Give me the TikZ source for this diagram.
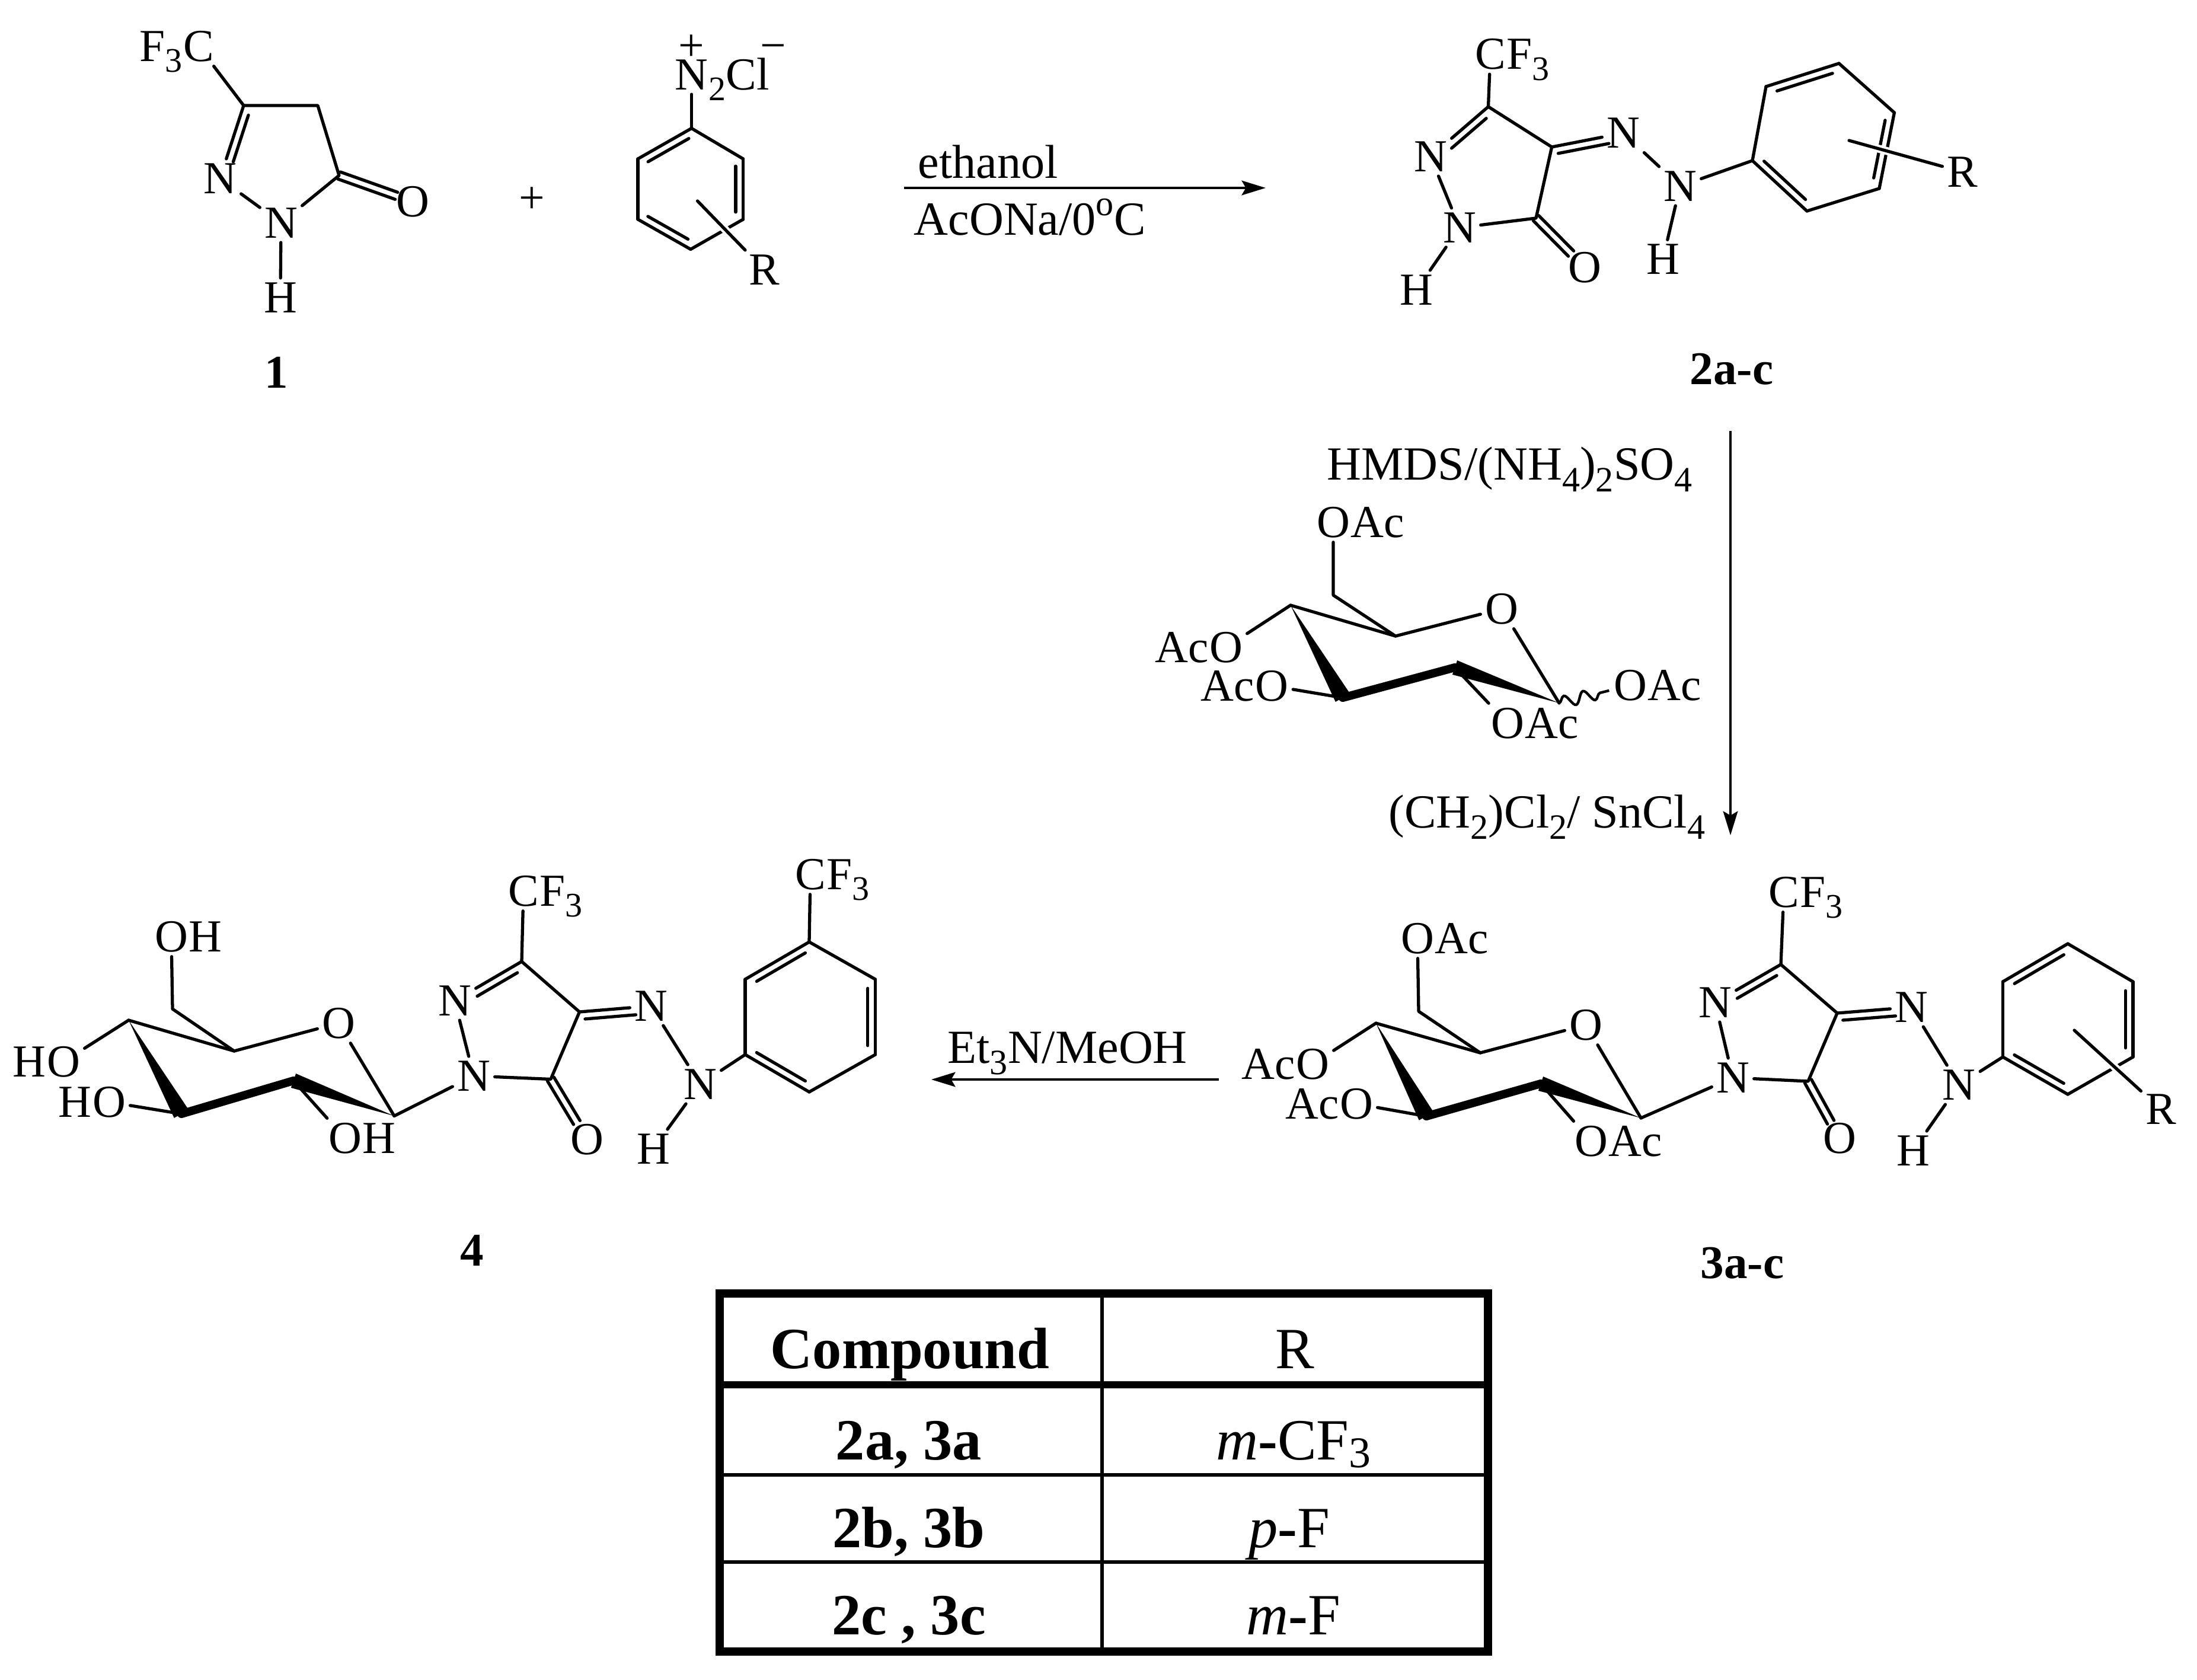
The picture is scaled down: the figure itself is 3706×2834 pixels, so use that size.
\documentclass[tikz,border=0pt]{standalone}
\usepackage{fontspec}
\usepackage{graphicx}
\setmainfont{Liberation Serif}
\usetikzlibrary{arrows.meta,calc,decorations.pathmorphing}

\newcommand{\chemf}{\fontsize{22}{26}\selectfont}
\newcommand{\reagf}{\fontsize{22.8}{27}\selectfont}
\newcommand{\labf}{\fontsize{22.5}{27}\selectfont\bfseries}
\newcommand{\tabf}{\fontsize{28}{32}\selectfont}
\newcommand{\sbs}[1]{\raisebox{-.24em}{\scalebox{.75}{#1}}}
\newcommand{\tsb}[1]{\raisebox{-.14em}{\scalebox{.75}{#1}}}
\newcommand{\sps}[1]{\raisebox{.42em}{\scalebox{.75}{#1}}}
\newcommand{\ofl}[5]{\draw[bond] ($(#1)!#4!(#2)!#3!90:(#2)$) -- ($(#1)!#5!(#2)!#3!90:(#2)$);}
\newcommand{\dbl}[5]{\draw[bond] (#1) -- (#2); \ofl{#1}{#2}{#3}{#4}{#5}}
\newcommand{\dbo}[4]{\ofl{#1}{#2}{#3}{0}{#4} \ofl{#1}{#2}{-#3}{0}{#4}}
\newcommand{\bzring}[6]{
	\dbl{#1}{#2}{-3.6pt}{.12}{.88}
	\draw[bond] (#2) -- (#3);
	\dbl{#3}{#4}{-3.6pt}{.12}{.88}
	\draw[bond] (#4) -- (#5);
	\dbl{#5}{#6}{-3.6pt}{.12}{.88}
	\draw[bond] (#6) -- (#1);
}
\newcommand{\wedgeb}[3]{\fill (#1) -- ($(#2)!#3!90:(#1)$) -- ($(#2)!#3!-90:(#1)$) -- cycle;}
\newcommand{\sugarbonds}[1]{
	\draw[bond] (#1_o6) -- (#1_c6) -- (#1_c5);
	\draw[bond] (#1_c4) -- (#1_c5) -- (#1_o5);
	\draw[bond] (#1_o5) -- (#1_c1);
	\draw[bond] (#1_c4) -- (#1_o4);
	\draw[bond] (#1_o3) -- (#1_c3);
	\draw[bond] (#1_c2) -- (#1_o2);
	\wedgeb{#1_c4}{#1_c3}{4pt}
	\draw[boldbond] (#1_c3) -- (#1_c2);
	\wedgeb{#1_c1}{#1_c2}{3.6pt}
}
\newcommand{\hydrazone}[1]{
	\dbl{#1_c3}{#1_n2}{3.6pt}{.12}{.72}
	\draw[bond] (#1_c3) -- (#1_cf);
	\draw[bond] (#1_c3) -- (#1_c4) -- (#1_c5) -- (#1_n1);
	\draw[bond] (#1_n1) -- (#1_n2);
	\dbl{#1_c4}{#1_na}{-3.6pt}{.07}{.78}
	\dbo{#1_c5}{#1_o}{1.8pt}{.72}
	\draw[bond] (#1_na) -- (#1_nb);
	\draw[bond] (#1_nb) -- (#1_h);
}

\begin{document}
\begin{tikzpicture}[x=0.01cm,y=-0.01cm,
	atom/.style={inner sep=2pt,font=\chemf},
	txt/.style={inner sep=0pt,font=\reagf,anchor=base west},
	txtl/.style={inner sep=0pt,font=\chemf,anchor=base east,xshift=2pt},
	txtr/.style={inner sep=0pt,font=\chemf,anchor=base west,xshift=-2pt},
	lab/.style={inner sep=0pt,font=\labf},
	tabt/.style={inner sep=0pt,font=\tabf,anchor=base},
	bond/.style={line width=1.5pt,line cap=round,line join=round},
	boldbond/.style={line width=4pt,line cap=round},
	rbond/.style={bond,preaction={draw,white,line width=3.8pt,line cap=butt}},
	wavy/.style={line width=1.25pt,decorate,decoration={snake,segment length=9.5pt,amplitude=2.8pt}},
	rxn/.style={line width=1.2pt,-{Stealth[length=11.5pt,width=7pt,inset=2pt]}},
	tabframe/.style={line width=4pt},
	tabhead/.style={line width=3.4pt},
	tabrule/.style={line width=1.7pt}]
	
\useasboundingbox (0,0) rectangle (3706,2834);

\path (411,178) coordinate (p1_c3) (536,178) coordinate (p1_c4) (572,296) coordinate (p1_c5);
\node[atom] (p1_n2) at (371,301) {N};
\node[atom] (p1_n1) at (474,376) {N};
\node[atom] (p1_h) at (473,502) {H};
\node[atom] (p1_o) at (696,340) {O};
\node[atom] (p1_cf) at (335,78) {C};
\node[txtl] (p1_f3) at (p1_cf.base west) {F\sbs{3}};
\dbl{p1_c3}{p1_n2}{3.6pt}{.1}{.74}
\draw[bond] (p1_cf) -- (p1_c3) -- (p1_c4) -- (p1_c5) -- (p1_n1);
\draw[bond] (p1_n2) -- (p1_n1);
\draw[bond] (p1_n1) -- (p1_h);
\dbo{p1_c5}{p1_o}{1.8pt}{.78}
\node[lab] (p1_lab) at (466,628) {1};

\node[atom] (plus_sign) at (897,338) {+};

\path (1166.5,216.5) coordinate (dz_a) (1253.6,268) coordinate (dz_b) (1253.6,370) coordinate (dz_c)
	(1165,420.5) coordinate (dz_d) (1076,370) coordinate (dz_e) (1076,268) coordinate (dz_f)
	(1176.5,339) coordinate (dz_rs);
\node[atom] (dz_n) at (1166.5,126) {N};
\node[txtr] (dz_cl) at (dz_n.base east) {\sbs{2}Cl};
\node[atom] (dz_plus) at (1166.5,81) {+};
\node[atom] (dz_minus) at (1304,89) {−};
\node[atom] (dz_r) at (1289,455) {R};
\draw[bond] (dz_n) -- (dz_a);
\bzring{dz_b}{dz_c}{dz_d}{dz_e}{dz_f}{dz_a}
\draw[rbond] (dz_rs) -- (dz_r);

\coordinate (rxn1_s) at (1525,317);
\coordinate (rxn1_e) at (2135,317);
\draw[rxn] (rxn1_s) -- (rxn1_e);
\node[txt] (rxn1_top) at (1548,301) {ethanol};
\node[txt] (rxn1_bot) at (1541,397) {AcONa/0\sps{o}C};

\path (2510.5,180) coordinate (p2_c3) (2617.6,248) coordinate (p2_c4) (2591,368) coordinate (p2_c5);
\node[atom] (p2_cf) at (2514,91.5) {C};
\node[txtr] (p2_f3) at (p2_cf.base east) {F\sbs{3}};
\node[atom] (p2_n2) at (2413,264) {N};
\node[atom] (p2_n1) at (2462,384) {N};
\node[atom] (p2_h1) at (2389.5,489) {H};
\node[atom] (p2_o) at (2673,451) {O};
\node[atom] (p2_na) at (2738,224.5) {N};
\node[atom] (p2_nb) at (2834,314) {N};
\node[atom] (p2_h) at (2805,437.5) {H};
\hydrazone{p2}
\draw[bond] (p2_n1) -- (p2_h1);
\path (2956,271) coordinate (p2_a) (2979,146) coordinate (p2_b) (3102,107) coordinate (p2_c)
	(3195.4,190) coordinate (p2_d) (3170,318) coordinate (p2_e) (3048,356) coordinate (p2_f)
	(3119,237) coordinate (p2_rs);
\draw[bond] (p2_nb) -- (p2_a);
\bzring{p2_b}{p2_c}{p2_d}{p2_e}{p2_f}{p2_a}
\node[atom] (p2_r) at (3310,290) {R};
\draw[rbond] (p2_rs) -- (p2_r);
\node[lab] (p2_lab) at (2921,623) {2a-c};

\coordinate (rxn2_s) at (2919,727);
\coordinate (rxn2_e) at (2919,1409);
\draw[rxn] (rxn2_s) -- (rxn2_e);
\node[txt] (rxn2_top) at (2238,810) {HMDS/(NH\sbs{4})\sbs{2}SO\sbs{4}};
\node[txt] (rxn2_bot) at (2342,1396) {(CH\sbs{2})Cl\sbs{2}/ SnCl\sbs{4}};

\path (2630,1186) coordinate (s2_c1) (2454,1126) coordinate (s2_c2) (2265,1177) coordinate (s2_c3)
	(2177,1021) coordinate (s2_c4) (2354,1073) coordinate (s2_c5) (2249,1004) coordinate (s2_c6);
\node[atom] (s2_o5) at (2533,1027) {O};
\node[atom] (s2_o6) at (2249,881) {O};
\node[txtr] (s2_ac6) at (s2_o6.base east) {Ac};
\node[atom] (s2_o4) at (2068,1092) {O};
\node[txtl] (s2_ac4) at (s2_o4.base west) {Ac};
\node[atom] (s2_o3) at (2145.5,1157) {O};
\node[txtl] (s2_ac3) at (s2_o3.base west) {Ac};
\node[atom] (s2_o2) at (2543,1220) {O};
\node[txtr] (s2_ac2) at (s2_o2.base east) {Ac};
\node[atom] (s2_o1) at (2750,1156) {O};
\node[txtr] (s2_ac1) at (s2_o1.base east) {Ac};
\sugarbonds{s2}
\draw[wavy] (s2_c1) -- (s2_o1);

\path (3004,1627) coordinate (p3_c3) (3099,1709) coordinate (p3_c4) (3050,1824) coordinate (p3_c5);
\node[atom] (p3_cf) at (3009,1505) {C};
\node[txtr] (p3_f3) at (p3_cf.base east) {F\sbs{3}};
\node[atom] (p3_n2) at (2893,1691) {N};
\node[atom] (p3_n1) at (2923,1818) {N};
\node[atom] (p3_o) at (3103,1920) {O};
\node[atom] (p3_na) at (3224,1699) {N};
\node[atom] (p3_nb) at (3304.5,1830) {N};
\node[atom] (p3_h) at (3227,1941) {H};
\hydrazone{p3}
\path (3378.5,1783) coordinate (p3_a) (3378.5,1656) coordinate (p3_b) (3488,1592) coordinate (p3_c)
	(3598,1656) coordinate (p3_d) (3598,1783) coordinate (p3_e) (3488,1846) coordinate (p3_f)
	(3499,1738) coordinate (p3_rs);
\draw[bond] (p3_nb) -- (p3_a);
\bzring{p3_b}{p3_c}{p3_d}{p3_e}{p3_f}{p3_a}
\node[atom] (p3_r) at (3645,1871) {R};
\draw[rbond] (p3_rs) -- (p3_r);
\path (2768,1886) coordinate (s3_c1) (2599,1828) coordinate (s3_c2) (2406,1883) coordinate (s3_c3)
	(2321,1726) coordinate (s3_c4) (2497,1776) coordinate (s3_c5) (2393,1706) coordinate (s3_c6);
\node[atom] (s3_o5) at (2675,1729) {O};
\node[atom] (s3_o6) at (2391,1583) {O};
\node[txtr] (s3_ac6) at (s3_o6.base east) {Ac};
\node[atom] (s3_o4) at (2214,1795) {O};
\node[txtl] (s3_ac4) at (s3_o4.base west) {Ac};
\node[atom] (s3_o3) at (2288,1862) {O};
\node[txtl] (s3_ac3) at (s3_o3.base west) {Ac};
\node[atom] (s3_o2) at (2684,1925) {O};
\node[txtr] (s3_ac2) at (s3_o2.base east) {Ac};
\sugarbonds{s3}
\draw[bond] (s3_c1) -- (p3_n1);
\node[lab] (p3_lab) at (2939,2131) {3a-c};

\coordinate (rxn3_s) at (2056,1821);
\coordinate (rxn3_e) at (1571,1821);
\draw[rxn] (rxn3_s) -- (rxn3_e);
\node[txt] (rxn3_top) at (1598,1793) {Et\sbs{3}N/MeOH};

\path (880,1622) coordinate (p4_c3) (977.5,1707) coordinate (p4_c4) (929,1820.5) coordinate (p4_c5);
\node[atom] (p4_cf) at (883,1503) {C};
\node[txtr] (p4_f3) at (p4_cf.base east) {F\sbs{3}};
\node[atom] (p4_n2) at (767,1688) {N};
\node[atom] (p4_n1) at (799,1815) {N};
\node[atom] (p4_o) at (990,1922) {O};
\node[atom] (p4_na) at (1098,1697) {N};
\node[atom] (p4_nb) at (1181,1829) {N};
\node[atom] (p4_h) at (1102,1938) {H};
\hydrazone{p4}
\path (1257,1779) coordinate (p4_a) (1257,1652) coordinate (p4_b) (1365,1589) coordinate (p4_c)
	(1476.5,1652) coordinate (p4_d) (1476.5,1779) coordinate (p4_e) (1365,1842) coordinate (p4_f);
\draw[bond] (p4_nb) -- (p4_a);
\bzring{p4_b}{p4_c}{p4_d}{p4_e}{p4_f}{p4_a}
\node[atom] (p4_cf2) at (1367,1475) {C};
\node[txtr] (p4_f32) at (p4_cf2.base east) {F\sbs{3}};
\draw[bond] (p4_c) -- (p4_cf2);
\path (665,1882.5) coordinate (s4_c1) (495,1823) coordinate (s4_c2) (306,1879) coordinate (s4_c3)
	(217,1721) coordinate (s4_c4) (395,1773) coordinate (s4_c5) (291,1702) coordinate (s4_c6);
\node[atom] (s4_o5) at (571,1726) {O};
\node[atom] (s4_o6) at (289,1580) {O};
\node[txtr] (s4_h6) at (s4_o6.base east) {H};
\node[atom] (s4_o4) at (107,1791) {O};
\node[txtl] (s4_h4) at (s4_o4.base west) {H};
\node[atom] (s4_o3) at (184,1859) {O};
\node[txtl] (s4_h3) at (s4_o3.base west) {H};
\node[atom] (s4_o2) at (582,1920) {O};
\node[txtr] (s4_h2) at (s4_o2.base east) {H};
\sugarbonds{s4}
\draw[bond] (s4_c1) -- (p4_n1);
\node[lab] (p4_lab) at (796,2109) {4};

\path (1214,2182) coordinate (tab_nw) (2510,2786) coordinate (tab_se)
	(1214,2336) coordinate (tab_h1) (2510,2336) coordinate (tab_h2)
	(1214,2488) coordinate (tab_a1) (2510,2488) coordinate (tab_a2)
	(1214,2635) coordinate (tab_b1) (2510,2635) coordinate (tab_b2)
	(1858.6,2182) coordinate (tab_v1) (1858.6,2786) coordinate (tab_v2);
\draw[tabhead] (tab_h1) -- (tab_h2);
\draw[tabrule] (tab_a1) -- (tab_a2);
\draw[tabrule] (tab_b1) -- (tab_b2);
\draw[tabrule] (tab_v1) -- (tab_v2);
\draw[tabframe] (tab_nw) rectangle (tab_se);
\node[tabt,font=\tabf\bfseries] (tab_c0) at (1535,2308) {Compound};
\node[tabt] (tab_r0) at (2184.5,2308) {R};
\node[tabt,font=\tabf\bfseries] (tab_c1) at (1533,2462) {2a, 3a};
\node[tabt] (tab_r1) at (2182,2462) {\textit{m}\textbf{-}CF\tsb{3}};
\node[tabt,font=\tabf\bfseries] (tab_c2) at (1533,2610) {2b, 3b};
\node[tabt] (tab_r2) at (2175,2610) {\textit{p}\textbf{-}F};
\node[tabt,font=\tabf\bfseries] (tab_c3) at (1533,2757) {2c , 3c};
\node[tabt] (tab_r3) at (2182,2757) {\textit{m}\textbf{-}F};

\end{tikzpicture}
\end{document}
